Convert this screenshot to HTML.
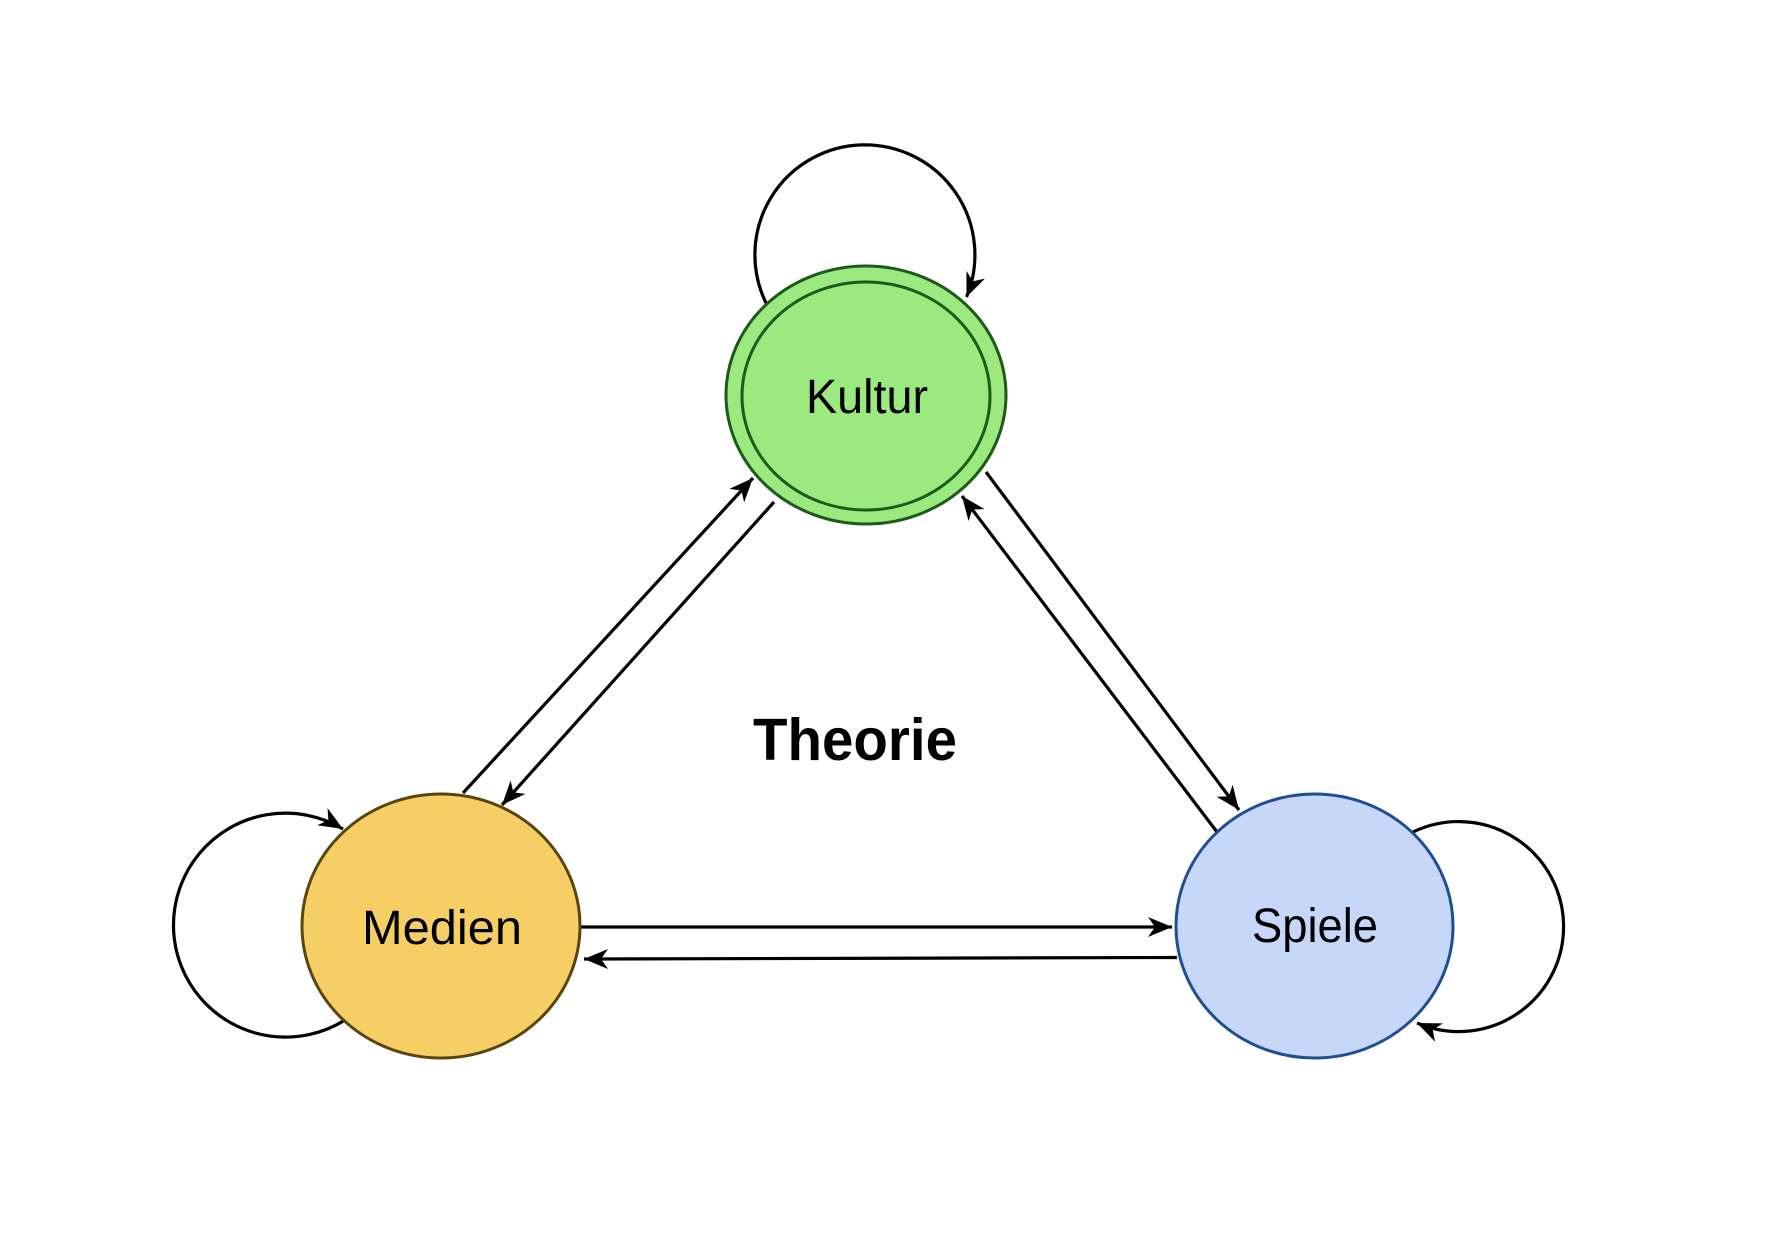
<!DOCTYPE html>
<html>
<head>
<meta charset="utf-8">
<style>
html,body{margin:0;padding:0;background:#fff;}
svg{display:block;}
text{font-family:"Liberation Sans",Arial,sans-serif;}
</style>
</head>
<body>
<svg width="1792" height="1234" viewBox="0 0 1792 1234" xmlns="http://www.w3.org/2000/svg">
<defs>
<marker id="arr" viewBox="-26 -12 28 24" refX="0" refY="0" markerWidth="28" markerHeight="24" markerUnits="userSpaceOnUse" orient="auto">
<path d="M0,0 L-24,-10 L-17,0 L-24,10 Z" fill="#000"/>
</marker>
</defs>
<rect width="1792" height="1234" fill="#fff"/>

<!-- Loops -->
<path d="M766,303 A110,110 0 1 1 966.5,297" fill="none" stroke="#000" stroke-width="3.2" marker-end="url(#arr)"/>
<path d="M345,1020 A112,112 0 1 1 343,829" fill="none" stroke="#000" stroke-width="3.2" marker-end="url(#arr)"/>
<path d="M1413,832 A105,105 0 1 1 1417,1023" fill="none" stroke="#000" stroke-width="3.2" marker-end="url(#arr)"/>

<!-- Connectors -->
<line x1="463" y1="793" x2="753" y2="478" stroke="#000" stroke-width="3.2" marker-end="url(#arr)"/>
<line x1="774" y1="502" x2="502" y2="805" stroke="#000" stroke-width="3.2" marker-end="url(#arr)"/>
<line x1="986" y1="472" x2="1239" y2="810" stroke="#000" stroke-width="3.2" marker-end="url(#arr)"/>
<line x1="1217" y1="832" x2="962" y2="496" stroke="#000" stroke-width="3.2" marker-end="url(#arr)"/>
<line x1="580" y1="927" x2="1172" y2="927" stroke="#000" stroke-width="3.2" marker-end="url(#arr)"/>
<line x1="1177" y1="957.5" x2="584" y2="959" stroke="#000" stroke-width="3.2" marker-end="url(#arr)"/>

<!-- Kultur -->
<ellipse cx="866" cy="395" rx="140" ry="129" fill="#9be97f" stroke="#1e5a1a" stroke-width="3"/>
<ellipse cx="866" cy="396" rx="124" ry="114" fill="#9be97f" stroke="#1e5a1a" stroke-width="3"/>
<text x="867" y="413" font-size="48" text-anchor="middle" fill="#000" textLength="122" lengthAdjust="spacingAndGlyphs">Kultur</text>

<!-- Medien -->
<ellipse cx="441" cy="926" rx="139" ry="132" fill="#f5cf66" stroke="#5a4510" stroke-width="3"/>
<text x="442" y="944" font-size="48" text-anchor="middle" fill="#000" textLength="160" lengthAdjust="spacingAndGlyphs">Medien</text>

<!-- Spiele -->
<ellipse cx="1314.5" cy="926" rx="138.5" ry="132" fill="#c6d7fa" stroke="#1f4e92" stroke-width="3"/>
<text x="1315" y="942" font-size="48" text-anchor="middle" fill="#000" textLength="126" lengthAdjust="spacingAndGlyphs">Spiele</text>

<!-- Title -->
<text x="855" y="760" font-size="59" font-weight="bold" text-anchor="middle" fill="#000" textLength="204" lengthAdjust="spacingAndGlyphs">Theorie</text>
</svg>
</body>
</html>
